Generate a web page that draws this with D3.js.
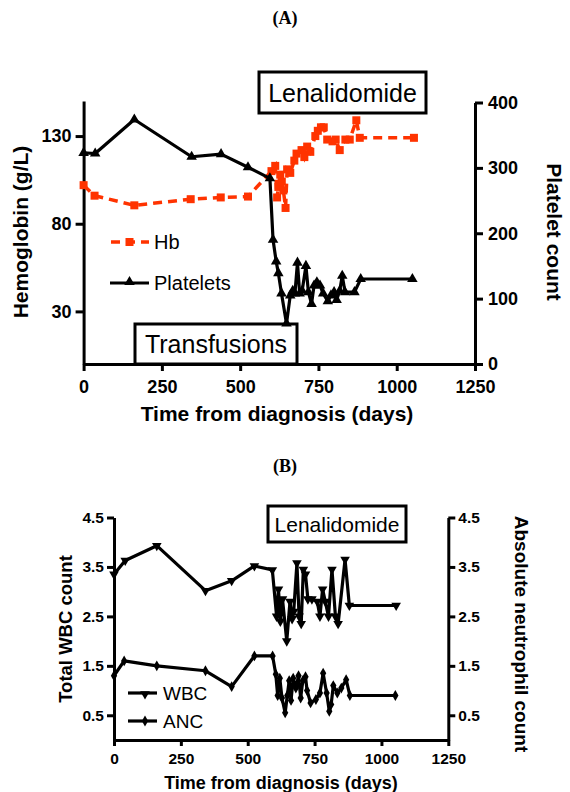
<!DOCTYPE html>
<html><head><meta charset="utf-8">
<script src="https://cdn.jsdelivr.net/npm/d3@7"></script>
<style>
html,body{margin:0;padding:0;background:#fff;}
svg{display:block;}
.ax path,.ax line{stroke:#000;stroke-width:3px;}
.ax text{font-family:"Liberation Sans",Arial,sans-serif;font-weight:bold;fill:#000;}
</style></head><body>
<svg id="c" width="570" height="792"></svg>
<script>
// ---------- Panel A data ----------
const hbDays = [0,35,162,342,438,525,600,612,618,622,628,633,638,645,650,660,673,680,696,705,714,724,740,748,758,767,778,795,805,818,836,850,871,882,1055];
const hbVals = [102,96,90.5,94,95,95.5,110,113,95,101,108,104,99,89,111,109,116,120,122,118,124,121,130,133,135,135,128,127,128,122,128,128,139,129,129];
const pltDays = [0,37,162,345,439,525,595,605,615,622,632,648,660,668,675,683,690,698,710,718,728,736,745,755,765,780,790,800,808,818,826,835,865,885,1050];
const pltVals = [323,322,374,317,321,301,284,190,157,139,108,62,105,112,108,155,108,112,150,110,92,120,125,120,108,96,105,110,98,112,135,110,110,130,130];
const xTicks = [0,250,500,750,1000,1250];
const hbTicks = [30,80,130];
const pltTicks = [0,100,200,300,400];
// ---------- Panel B data ----------
const wbcDays = [0,42,160,342,440,525,592,608,615,622,630,646,658,666,672,684,692,700,708,716,725,740,760,770,780,790,802,815,828,838,864,880,1055];
const wbcVals = [3.35,3.63,3.93,3.02,3.22,3.52,3.44,2.5,3.05,2.4,2.85,2.0,2.8,2.45,2.6,3.58,2.5,2.35,3.45,3.35,2.85,2.85,2.8,2.5,3.05,2.8,2.5,3.45,2.5,2.35,3.65,2.72,2.72];
const ancDays = [0,38,160,342,440,525,593,605,612,620,628,640,648,655,662,670,680,690,698,706,716,722,735,755,770,782,795,805,812,820,835,850,868,882,1052];
const ancVals = [1.3,1.6,1.5,1.4,1.08,1.7,1.7,1.33,0.9,1.25,0.85,0.55,0.9,1.2,0.8,1.25,1.05,1.3,0.85,1.2,1.28,1.0,0.75,0.82,0.95,1.35,0.95,0.58,0.72,1.1,0.95,1.05,1.22,0.9,0.9];
const bTicks = [0.5,1.5,2.5,3.5,4.5];

const svg = d3.select('#c');
const SANS = '"Liberation Sans",Arial,sans-serif';
const SERIF = '"Liberation Serif","Times New Roman",serif';
const RED = '#ff3300';

function title(t,x,y){
  svg.append('text').attr('x',x).attr('y',y).attr('text-anchor','middle')
    .attr('font-family',SERIF).attr('font-weight','bold').attr('font-size',18).text(t);
}
function box(x0,y0,x1,y1,label,fs){
  const g = svg.append('g');
  g.append('rect').attr('x',x0).attr('y',y0).attr('width',x1-x0).attr('height',y1-y0)
    .attr('fill','#fff').attr('stroke','#000').attr('stroke-width',3);
  g.append('text').attr('x',(x0+x1)/2).attr('y',(y0+y1)/2).attr('dy','0.36em')
    .attr('text-anchor','middle').attr('font-family',SANS).attr('font-size',fs).text(label);
}
function rotLabel(t,x,y,ang,fs){
  svg.append('text').attr('transform',`translate(${x},${y}) rotate(${ang})`)
    .attr('text-anchor','middle').attr('font-family',SANS).attr('font-weight','bold')
    .attr('font-size',fs).text(t);
}
function styleAxis(g,fs){ g.attr('class','ax'); g.selectAll('text').attr('font-size',fs); }

// ================= Panel A =================
title('(A)',285,24);
const xA = d3.scaleLinear().domain([0,1250]).range([83.6,475]);
const yA = d3.scaleLinear().domain([0,150]).range([364,101]);
const yA2 = d3.scaleLinear().domain([0,400]).range([364,102.5]);

const gxA = svg.append('g').attr('transform','translate(0,364)')
  .call(d3.axisBottom(xA).tickValues(xTicks).tickFormat(d3.format('d')).tickSize(7).tickPadding(9).tickSizeOuter(0));
styleAxis(gxA,18);
const gyA = svg.append('g').attr('transform','translate(83.6,0)')
  .call(d3.axisLeft(yA).tickValues(hbTicks).tickFormat(d3.format('d')).tickSize(8).tickPadding(4).tickSizeOuter(0));
styleAxis(gyA,18);
const gyA2 = svg.append('g').attr('transform','translate(475,0)')
  .call(d3.axisRight(yA2).tickValues(pltTicks).tickFormat(d3.format('d')).tickSize(8).tickPadding(5).tickSizeOuter(0));
styleAxis(gyA2,18);

box(135,324,297,364,'Transfusions',25);

const hb = hbDays.map((d,i)=>[d,hbVals[i]]);
svg.append('path').datum(hb).attr('fill','none').attr('stroke',RED).attr('stroke-width',3.5)
  .attr('stroke-dasharray','9,6')
  .attr('d',d3.line().x(d=>xA(d[0])).y(d=>yA(d[1])));
svg.append('g').selectAll('rect').data(hb).join('rect')
  .attr('x',d=>xA(d[0])-4).attr('y',d=>yA(d[1])-4).attr('width',8).attr('height',8).attr('fill',RED);

const plt = pltDays.map((d,i)=>[d,pltVals[i]]);
svg.append('path').datum(plt).attr('fill','none').attr('stroke','#000').attr('stroke-width',3.2)
  .attr('stroke-linejoin','round')
  .attr('d',d3.line().x(d=>xA(d[0])).y(d=>yA2(d[1])));
const triUp = d3.symbol().type(d3.symbolTriangle).size(48);
svg.append('g').selectAll('path').data(plt).join('path')
  .attr('transform',d=>`translate(${xA(d[0])},${yA2(d[1])})`).attr('d',triUp).attr('fill','#000');

box(259,72,426,113,'Lenalidomide',25);

// Legend A
svg.append('line').attr('x1',110).attr('x2',149).attr('y1',242).attr('y2',242)
  .attr('stroke',RED).attr('stroke-width',3.5).attr('stroke-dasharray','9,6').attr('stroke-dashoffset',-1);
svg.append('rect').attr('x',125.5).attr('y',238).attr('width',8).attr('height',8).attr('fill',RED);
svg.append('text').attr('x',154).attr('y',249).attr('font-family',SANS).attr('font-size',20).text('Hb');
svg.append('line').attr('x1',110).attr('x2',149).attr('y1',283).attr('y2',283)
  .attr('stroke','#000').attr('stroke-width',3.2);
svg.append('path').attr('transform','translate(129.5,282)').attr('d',triUp).attr('fill','#000');
svg.append('text').attr('x',154).attr('y',290).attr('font-family',SANS).attr('font-size',20).text('Platelets');

rotLabel('Hemoglobin (g/L)',28,232,-90,21);
rotLabel('Platelet count',547,232,90,21);
svg.append('text').attr('x',277).attr('y',421).attr('text-anchor','middle').attr('font-family',SANS)
  .attr('font-weight','bold').attr('font-size',21).text('Time from diagnosis (days)');

// ================= Panel B =================
title('(B)',285,472);
const xB = d3.scaleLinear().domain([0,1250]).range([114,448.3]);
const yB = d3.scaleLinear().domain([0,4.5]).range([740,517.5]);

const gxB = svg.append('g').attr('transform','translate(0,740)')
  .call(d3.axisBottom(xB).tickValues(xTicks).tickFormat(d3.format('d')).tickSize(6).tickPadding(7).tickSizeOuter(0));
styleAxis(gxB,15.5);
const gyB = svg.append('g').attr('transform','translate(114,0)')
  .call(d3.axisLeft(yB).tickValues(bTicks).tickFormat(d3.format('.1f')).tickSize(7).tickPadding(3).tickSizeOuter(0));
styleAxis(gyB,15.5);
const gyB2 = svg.append('g').attr('transform','translate(448.3,0)')
  .call(d3.axisRight(yB).tickValues(bTicks).tickFormat(d3.format('.1f')).tickSize(7).tickPadding(3).tickSizeOuter(0));
styleAxis(gyB2,15.5);

box(268,506,406,542,'Lenalidomide',21);

const triDown = d3.symbol().type(d3.symbolTriangle).size(40);
const diam = d3.symbol().type(d3.symbolDiamond).size(34);
const wbc = wbcDays.map((d,i)=>[d,wbcVals[i]]);
const anc = ancDays.map((d,i)=>[d,ancVals[i]]);
[[wbc,triDown,180],[anc,diam,0]].forEach(([data,sym,rot])=>{
  svg.append('path').datum(data).attr('fill','none').attr('stroke','#000').attr('stroke-width',3.2)
    .attr('stroke-linejoin','round')
    .attr('d',d3.line().x(d=>xB(d[0])).y(d=>yB(d[1])));
  svg.append('g').selectAll('path').data(data).join('path')
    .attr('transform',d=>`translate(${xB(d[0])},${yB(d[1])}) rotate(${rot})`).attr('d',sym).attr('fill','#000');
});

svg.append('line').attr('x1',128).attr('x2',157).attr('y1',693).attr('y2',693).attr('stroke','#000').attr('stroke-width',3.2);
svg.append('path').attr('transform','translate(145,694) rotate(180)').attr('d',triDown).attr('fill','#000');
svg.append('text').attr('x',163).attr('y',700).attr('font-family',SANS).attr('font-size',19).text('WBC');
svg.append('line').attr('x1',128).attr('x2',157).attr('y1',721).attr('y2',721).attr('stroke','#000').attr('stroke-width',3.2);
svg.append('path').attr('transform','translate(145,721)').attr('d',diam).attr('fill','#000');
svg.append('text').attr('x',163).attr('y',728).attr('font-family',SANS).attr('font-size',19).text('ANC');

rotLabel('Total WBC count',72,629,-90,18.5);
rotLabel('Absolute neutrophil count',515,634,90,19);
svg.append('text').attr('x',281).attr('y',789).attr('text-anchor','middle').attr('font-family',SANS)
  .attr('font-weight','bold').attr('font-size',18).text('Time from diagnosis (days)');
</script>
</body></html>
